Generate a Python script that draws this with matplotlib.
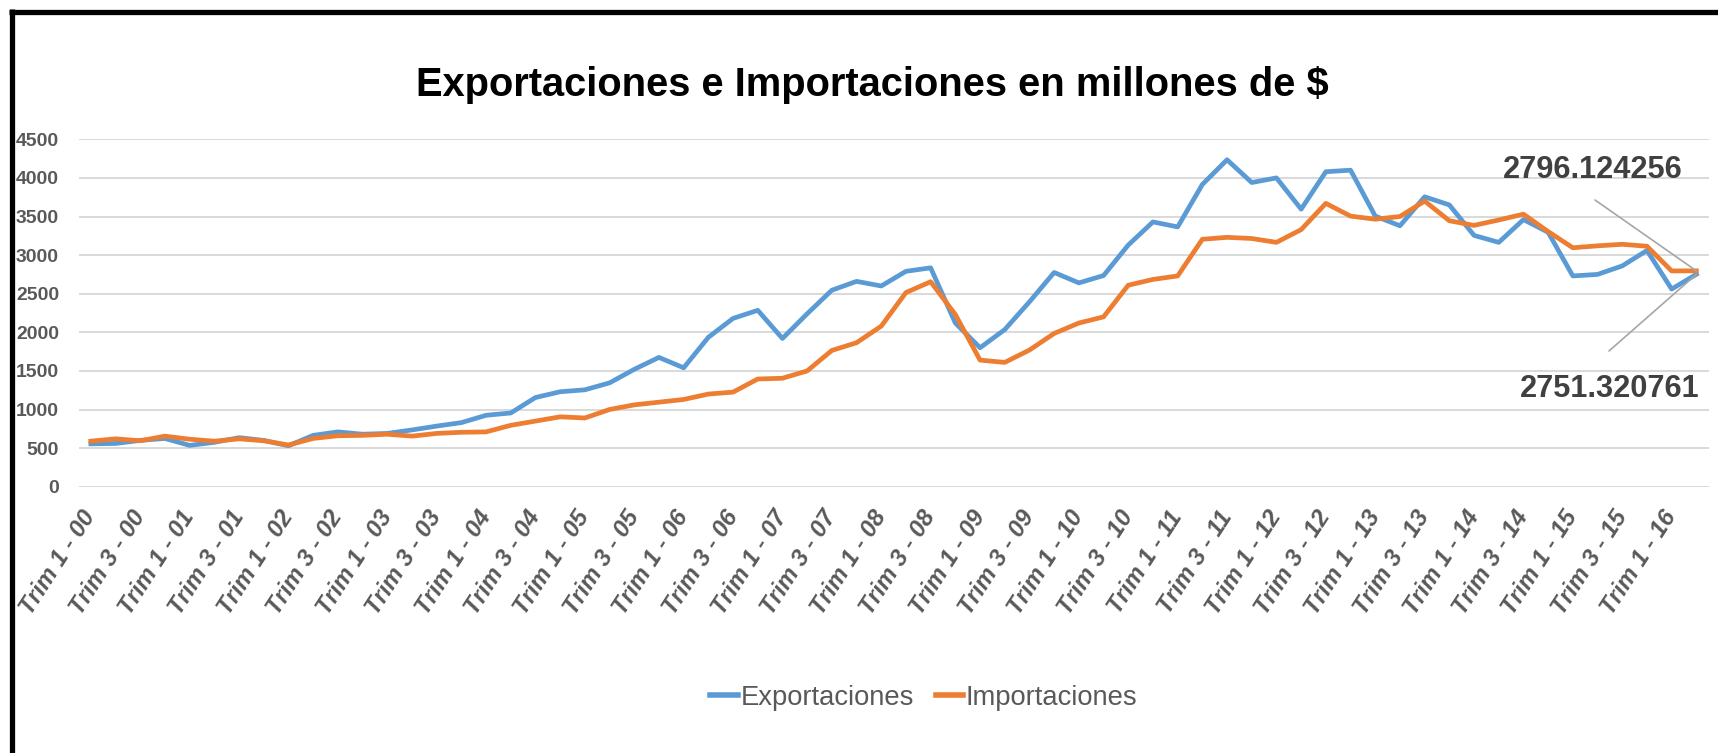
import matplotlib
matplotlib.use('Agg')
import matplotlib.pyplot as plt
from matplotlib import font_manager as fm
from matplotlib.lines import Line2D

# ---------------- data ----------------
years = ['00', '01', '02', '03', '04', '05', '06', '07', '08',
         '09', '10', '11', '12', '13', '14', '15', '16']
quarters = [1, 2, 3, 4]
categories = [f'Trim {q} - {y}' for y in years for q in quarters][:66]

exportaciones = [555, 560, 600, 625, 535, 575, 635, 600,
                 530, 665, 710, 680, 690, 735, 785, 830,
                 925, 955, 1155, 1230, 1255, 1345, 1520, 1675,
                 1540, 1935, 2180, 2285, 1920, 2240, 2545, 2660,
                 2600, 2790, 2835, 2120, 1800, 2035, 2395, 2775,
                 2640, 2735, 3130, 3430, 3365, 3915, 4235, 3940,
                 4000, 3595, 4080, 4100, 3505, 3380, 3755, 3650,
                 3255, 3165, 3460, 3295, 2730, 2750, 2860, 3060,
                 2560, 2751.320761]

importaciones = [590, 620, 595, 655, 615, 590, 620, 595,
                 540, 625, 660, 665, 680, 655, 690, 705,
                 710, 795, 850, 905, 890, 1000, 1060, 1095,
                 1130, 1200, 1225, 1395, 1405, 1500, 1765, 1865,
                 2080, 2515, 2655, 2230, 1640, 1610, 1770, 1985,
                 2120, 2200, 2610, 2685, 2730, 3205, 3230, 3215,
                 3165, 3330, 3670, 3505, 3465, 3500, 3700, 3445,
                 3385, 3455, 3530, 3305, 3095, 3120, 3140, 3115,
                 2795, 2796.124256]

series_names = ['Exportaciones', 'Importaciones']
y_ticks = [0, 500, 1000, 1500, 2000, 2500, 3000, 3500, 4000, 4500]
title = 'Exportaciones e Importaciones en millones de $'

# ---------------- fonts ----------------
names = {f.name for f in fm.fontManager.ttflist}
if 'Liberation Sans Narrow' in names:
    FONT, k = 'Liberation Sans Narrow', 1.0
else:
    FONT, k = 'Liberation Sans', 0.82
plt.rcParams['font.family'] = [FONT, 'DejaVu Sans']

W, H = 1718, 753
fig = plt.figure(figsize=(W / 100, H / 100), dpi=100)
fig.patch.set_facecolor('white')

left, right, top, bottom = 78.5, 1708.7, 139.3, 486.7
ax = fig.add_axes([left / W, 1 - bottom / H, (right - left) / W, (bottom - top) / H])

x = list(range(len(categories)))
ax.plot(x, exportaciones, color='#5B9BD5', lw=3.4, solid_joinstyle='round',
        label=series_names[0], zorder=3)
ax.plot(x, importaciones, color='#ED7D31', lw=3.4, solid_joinstyle='round',
        label=series_names[1], zorder=3)

ax.set_xlim(-0.5, len(categories) - 0.5)
ax.set_ylim(0, 4500)
ax.set_yticks(y_ticks)
ax.set_yticklabels([str(v) for v in y_ticks])
ax.yaxis.grid(True, color='#D9D9D9', lw=1.4)
ax.set_axisbelow(True)
for s in ax.spines.values():
    s.set_visible(False)

ax.set_xticks(x[::2])
ax.set_xticklabels(categories[::2], rotation=57, rotation_mode='anchor',
                   ha='right', va='center', fontsize=21 * k, color='#595959',
                   fontweight='bold', fontstyle='italic')
ax.tick_params(axis='x', length=0, pad=19)
ax.tick_params(axis='y', length=0, pad=14, labelsize=17 * k, labelcolor='#595959')
for t in ax.get_yticklabels():
    t.set_fontweight('bold')

# title
fig.text(872 / W, 1 - 96 / H, title, ha='center', va='baseline',
         fontsize=35 * k, fontweight='bold', color='black')

# legend
leg = fig.legend(loc='center', bbox_to_anchor=(924 / W, 1 - 698 / H), ncol=2,
                 frameon=False, fontsize=24 * k, handlelength=1.0,
                 handletextpad=0.1, columnspacing=0.8)
for t in leg.get_texts():
    t.set_color('#595959')
for h in leg.legend_handles:
    h.set_linewidth(4)

# data labels with leader lines
last = len(categories) - 1
fig.text(1593 / W, 1 - 170 / H, f'{importaciones[-1]:.6f}', ha='center', va='center',
         fontsize=27 * k, fontweight='bold', color='#404040')
fig.text(1610 / W, 1 - 389 / H, f'{exportaciones[-1]:.6f}', ha='center', va='center',
         fontsize=27 * k, fontweight='bold', color='#404040')
ax.annotate('', xy=(last, importaciones[-1]), xycoords='data',
            xytext=(1595 / W, 1 - 200 / H), textcoords='figure fraction',
            arrowprops=dict(arrowstyle='-', color='#A6A6A6', lw=1.2, shrinkA=0, shrinkB=0),
            annotation_clip=False)
ax.annotate('', xy=(last, exportaciones[-1]), xycoords='data',
            xytext=(1609 / W, 1 - 351 / H), textcoords='figure fraction',
            arrowprops=dict(arrowstyle='-', color='#A6A6A6', lw=1.2, shrinkA=0, shrinkB=0),
            annotation_clip=False)

# chart border (top and left visible)
fig.add_artist(Line2D([9 / W, 1], [1 - 12 / H, 1 - 12 / H], color='black', lw=3.8,
                      solid_capstyle='butt'))
fig.add_artist(Line2D([12 / W, 12 / W], [0, 1 - 9 / H], color='black', lw=3.8,
                      solid_capstyle='butt'))

fig.savefig('out.png', dpi=100, facecolor='white')
